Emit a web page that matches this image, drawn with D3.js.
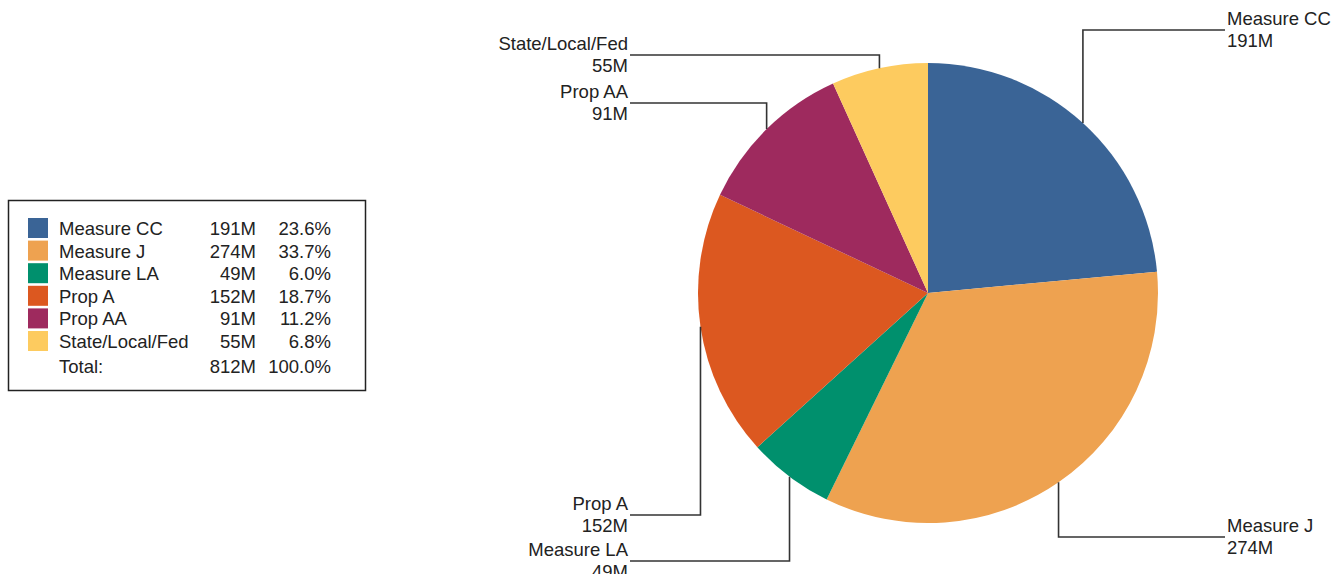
<!DOCTYPE html>
<html><head><meta charset="utf-8">
<script src="https://cdn.jsdelivr.net/npm/d3@7"></script>
<style>body{margin:0;background:#fff;} text{font-family:"Liberation Sans",Arial,sans-serif;}</style>
</head><body><svg id="c" width="1344" height="574"></svg>
<script>
const categories = ["Measure CC","Measure J","Measure LA","Prop A","Prop AA","State/Local/Fed"];
const values = [191,274,49,152,91,55];
const valueLabels = ["191M","274M","49M","152M","91M","55M"];
const percentLabels = ["23.6%","33.7%","6.0%","18.7%","11.2%","6.8%"];
const totalLabel = "812M";
const totalPercent = "100.0%";
const colors = ["#3A6496","#EEA250","#00906D","#DC5820","#9E2A5E","#FDCB5F"];

const FS = 18.5;
const svg = d3.select("#c");
const cx = 928, cy = 293, R = 230;
const pie = d3.pie().sort(null).value(d=>d)(values);
const arc = d3.arc().innerRadius(0).outerRadius(R);
const g = svg.append("g").attr("transform",`translate(${cx},${cy})`);
g.selectAll("path").data(pie).join("path").attr("d",arc).attr("fill",(d,i)=>colors[i]);

// leader lines: layout (side, horizontal line y)
const layout = [
  {side:"r", y:30}, {side:"r", y:537}, {side:"l", y:561},
  {side:"l", y:515}, {side:"l", y:103}, {side:"l", y:55}
];
const edge = d3.arc().innerRadius(R).outerRadius(R);
const lab = svg.append("g");
pie.forEach((d,i)=>{
  const [px,py] = edge.centroid(d);
  const x0 = cx+px, y0 = cy+py;
  const L = layout[i];
  const xe = L.side==="r" ? 1225 : 630;
  lab.append("path").attr("d",`M${x0},${y0}V${L.y}H${xe}`)
    .attr("fill","none").attr("stroke","#333").attr("stroke-width",1.6);
  const tx = L.side==="r" ? 1227 : 628;
  const anchor = L.side==="r" ? "start" : "end";
  lab.append("text").attr("x",tx).attr("y",L.y-5).attr("text-anchor",anchor)
    .attr("font-size",FS).attr("fill","#222").text(categories[i]);
  lab.append("text").attr("x",tx).attr("y",L.y+17).attr("text-anchor",anchor)
    .attr("font-size",FS).attr("fill","#222").text(valueLabels[i]);
});

// legend
const lg = svg.append("g");
lg.append("rect").attr("x",8.5).attr("y",200.5).attr("width",357).attr("height",190)
  .attr("fill","#fff").attr("stroke","#222").attr("stroke-width",1.5);
const rowY = d3.scalePoint().domain(d3.range(6)).range([228,341]);
categories.forEach((c,i)=>{
  const y = rowY(i);
  lg.append("rect").attr("x",28).attr("y",y-10).attr("width",20).attr("height",20).attr("fill",colors[i]);
  lg.append("text").attr("x",59).attr("y",y+7).attr("font-size",FS).attr("fill","#222").text(c);
  lg.append("text").attr("x",256).attr("y",y+7).attr("font-size",FS).attr("text-anchor","end").attr("fill","#222").text(valueLabels[i]);
  lg.append("text").attr("x",331).attr("y",y+7).attr("font-size",FS).attr("text-anchor","end").attr("fill","#222").text(percentLabels[i]);
});
const ty = 373;
lg.append("text").attr("x",59).attr("y",ty).attr("font-size",FS).attr("fill","#222").text("Total:");
lg.append("text").attr("x",256).attr("y",ty).attr("font-size",FS).attr("text-anchor","end").attr("fill","#222").text(totalLabel);
lg.append("text").attr("x",331).attr("y",ty).attr("font-size",FS).attr("text-anchor","end").attr("fill","#222").text(totalPercent);
</script></body></html>
